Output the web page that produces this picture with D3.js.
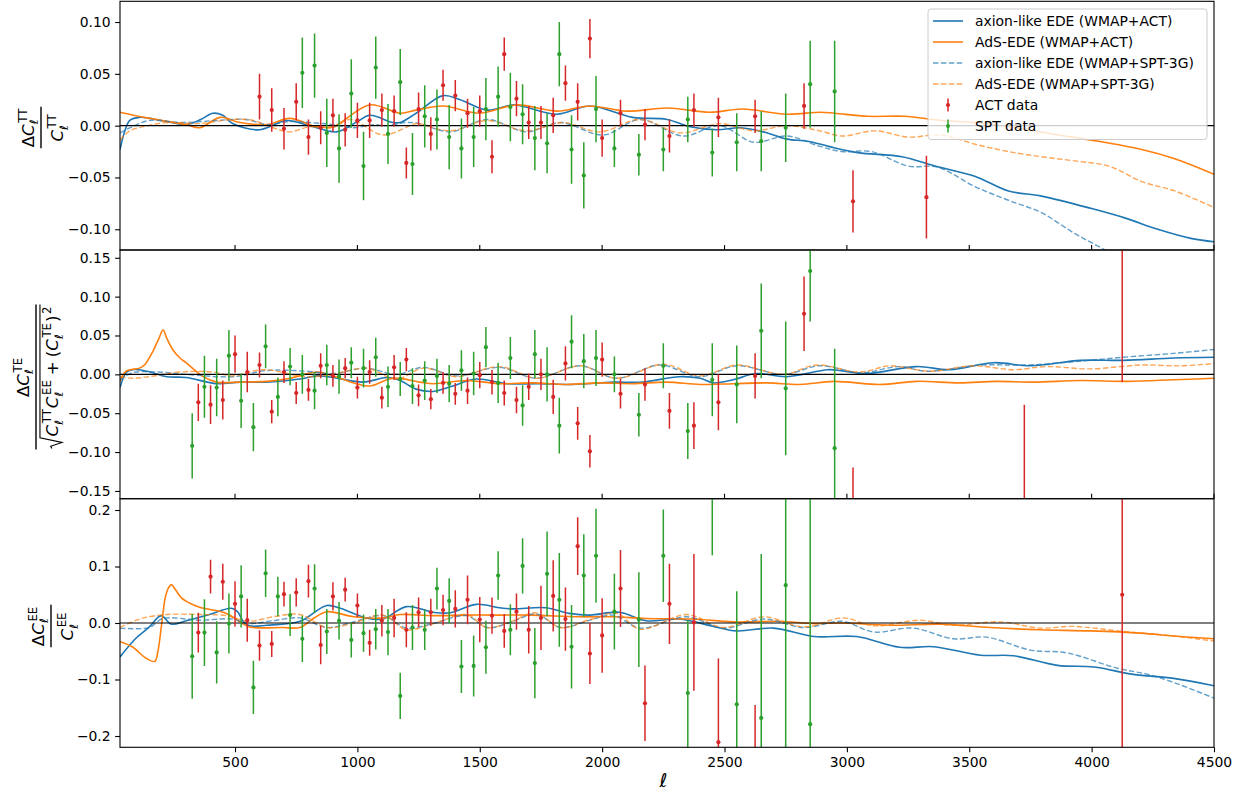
<!DOCTYPE html>
<html>
<head>
<meta charset="utf-8">
<script src="https://d3js.org/d3.v7.min.js"></script>
<style>
  body { margin: 0; background: #fff; }
  svg text { font-family: "DejaVu Sans", sans-serif; fill: #000; }
</style>
</head>
<body>
<svg id="chart" width="1245" height="792"></svg>
<script>
// ---------- data ----------
var xTicks = [500, 1000, 1500, 2000, 2500, 3000, 3500, 4000, 4500];
var ttTicks = [-0.10, -0.05, 0.00, 0.05, 0.10];
var teTicks = [-0.15, -0.10, -0.05, 0.00, 0.05, 0.10, 0.15];
var eeTicks = [-0.2, -0.1, 0.0, 0.1, 0.2];

var seriesNames = ["axion-like EDE (WMAP+ACT)", "AdS-EDE (WMAP+ACT)",
                   "axion-like EDE (WMAP+SPT-3G)", "AdS-EDE (WMAP+SPT-3G)"];
var dataNames = ["ACT data", "SPT data"];

// ACT, TT
var actTTell = [600,650,700,750,800,850,900,950,1000,1050,1100,1150,1200,1250,1300,1350,1400,1450,1500,1550,
  1600,1650,1700,1750,1800,1850,1900,1950,2000,2075,2175,2275,2375,2475,2625,2825,3025,3325];
var actTTval = [0.028,0.015,-0.003,0.023,-0.011,-0.002,0.010,-0.004,0.005,0.005,0.015,0.014,-0.036,0.016,-0.008,0.039,0.029,0.012,0.014,-0.030,
  0.069,0.026,0.003,0.003,0.010,0.041,0.023,0.084,-0.012,0.012,0.001,-0.010,0.015,0.008,0.009,0.019,-0.073,-0.069];
var actTTerr = [0.022,0.021,0.020,0.018,0.017,0.016,0.016,0.016,0.017,0.017,0.016,0.015,0.015,0.016,0.016,0.015,0.015,0.014,0.015,0.016,
  0.016,0.017,0.016,0.016,0.017,0.017,0.018,0.019,0.018,0.013,0.015,0.016,0.016,0.019,0.016,0.022,0.030,0.040];
// SPT, TT
var sptTTell = [775,825,875,925,975,1025,1075,1125,1175,1225,1275,1325,1375,1425,1475,1525,1575,1625,1675,1725,
  1775,1825,1875,1925,1975,2050,2150,2250,2350,2450,2550,2650,2750,2850,2950];
var sptTTval = [0.051,0.058,-0.007,-0.022,0.031,-0.039,0.056,-0.008,0.042,-0.037,0.009,0.006,-0.011,-0.022,-0.011,0.016,0.028,0.018,0.011,-0.012,
  -0.017,0.069,-0.023,-0.048,0.016,-0.022,-0.028,-0.023,0.006,-0.026,-0.016,-0.015,-0.002,0.040,0.033];
var sptTTerr = [0.034,0.031,0.033,0.033,0.033,0.033,0.030,0.029,0.032,0.030,0.030,0.029,0.031,0.029,0.029,0.030,0.029,0.033,0.029,0.031,
  0.029,0.031,0.033,0.032,0.032,0.018,0.020,0.021,0.022,0.023,0.028,0.029,0.033,0.042,0.049];

// ACT, TE
var actTEell = [350,400,450,500,550,600,650,700,750,800,850,900,950,1000,1050,1100,1150,1200,1250,1300,
  1350,1400,1450,1500,1550,1600,1650,1700,1750,1800,1850,1900,1950,2000,2075,2175,2275,2375,2475,2625,2825,3025,3725,4125];
var actTEval = [-0.036,-0.039,-0.033,0.026,0.003,0.012,-0.048,0.003,-0.024,-0.020,0.011,-0.002,0.008,-0.017,0.003,-0.030,0.009,0.019,-0.027,-0.032,
  -0.011,-0.025,-0.021,-0.001,-0.010,-0.024,-0.033,-0.016,0.000,-0.029,0.014,-0.063,-0.099,0.019,-0.025,-0.013,-0.047,-0.066,-0.036,-0.002,0.078,-0.230,-0.200,0.250];
var actTEerr = [0.024,0.025,0.025,0.024,0.026,0.016,0.015,0.014,0.014,0.014,0.016,0.014,0.013,0.014,0.015,0.014,0.016,0.015,0.014,0.013,
  0.014,0.014,0.017,0.017,0.016,0.016,0.017,0.017,0.020,0.022,0.022,0.021,0.021,0.022,0.019,0.021,0.023,0.030,0.036,0.029,0.048,0.110,0.161,0.260];
// SPT, TE
var sptTEell = [325,375,425,475,525,575,625,675,725,775,825,875,925,975,1025,1075,1125,1175,1225,1275,
  1325,1375,1425,1475,1525,1575,1625,1675,1725,1775,1825,1875,1925,1975,2050,2150,2250,2350,2450,2550,2650,2750,2850,2950];
var sptTEval = [-0.092,-0.016,-0.017,0.024,-0.034,-0.068,0.036,-0.029,0.010,0.000,-0.021,0.012,-0.003,0.015,0.008,0.022,-0.016,-0.006,-0.015,-0.008,
  -0.002,-0.012,0.005,0.001,0.035,-0.011,0.021,-0.040,0.026,0.000,-0.066,0.042,0.017,0.021,0.000,-0.052,0.011,-0.073,-0.007,-0.013,0.056,-0.018,0.133,-0.095];
var sptTEerr = [0.042,0.040,0.037,0.033,0.035,0.031,0.028,0.025,0.024,0.025,0.024,0.026,0.022,0.020,0.025,0.025,0.026,0.022,0.023,0.025,
  0.022,0.024,0.026,0.028,0.026,0.026,0.027,0.026,0.031,0.035,0.036,0.034,0.035,0.036,0.023,0.028,0.029,0.036,0.047,0.050,0.061,0.086,0.065,0.128];

// ACT, EE
var actEEell = [350,400,450,500,550,600,650,700,750,800,850,900,950,1000,1050,1100,1150,1200,1250,1300,
  1350,1400,1450,1500,1550,1600,1650,1700,1750,1800,1850,1900,1950,2000,2075,2175,2275,2375,2475,2625,4125];
var actEEval = [-0.017,0.082,0.073,0.034,0.005,-0.040,-0.037,0.051,0.054,0.074,-0.039,0.047,0.059,0.031,-0.035,0.004,0.009,-0.012,0.019,0.019,
  0.023,0.025,0.041,0.006,0.013,-0.014,0.020,-0.012,0.009,0.048,0.007,0.136,-0.054,-0.022,0.061,-0.142,0.034,0.001,-0.211,-0.280,0.050];
var actEEerr = [0.035,0.030,0.032,0.040,0.038,0.027,0.023,0.022,0.025,0.029,0.034,0.025,0.021,0.021,0.023,0.028,0.034,0.031,0.026,0.024,
  0.027,0.033,0.043,0.040,0.032,0.030,0.032,0.042,0.057,0.063,0.056,0.051,0.054,0.066,0.068,0.067,0.071,0.121,0.148,0.135,0.350];
// SPT, EE
var sptEEell = [325,375,425,475,525,575,625,675,725,775,825,875,925,975,1025,1075,1125,1175,1225,1275,
  1325,1375,1425,1475,1525,1575,1625,1675,1725,1775,1825,1875,1925,1975,2050,2150,2250,2350,2450,2550,2650,2750,2850];
var sptEEval = [-0.059,-0.017,-0.052,-0.001,0.047,-0.114,0.088,0.047,0.014,-0.028,0.061,-0.015,0.004,-0.030,-0.018,-0.011,-0.016,-0.129,-0.008,-0.012,
  0.061,0.039,-0.077,-0.076,-0.043,0.084,-0.012,0.101,-0.071,0.087,0.041,-0.042,0.084,0.119,0.020,0.006,0.119,-0.124,0.260,-0.144,-0.168,0.067,-0.179];
var sptEEerr = [0.075,0.059,0.055,0.053,0.055,0.047,0.042,0.035,0.037,0.041,0.043,0.040,0.033,0.031,0.033,0.036,0.041,0.041,0.040,0.036,
  0.037,0.040,0.047,0.054,0.047,0.043,0.045,0.049,0.062,0.075,0.083,0.074,0.073,0.083,0.067,0.084,0.082,0.129,0.140,0.200,0.290,0.320,0.420];

// model curves, [ell, value]
var ttAxionACT = [[30,-0.023],[50,-0.005],[70,0.005],[110,0.008],[200,0.005],[300,0.001],[360,0.006],[410,0.012],[450,0.010],[490,0.002],
  [600,-0.004],[710,0.005],[805,0.000],[915,-0.006],[1000,0.004],[1050,0.010],[1145,0.003],[1175,0.003],[1240,0.012],[1350,0.029],[1420,0.025],
  [1530,0.015],[1640,0.020],[1815,0.011],[1950,0.019],[2125,0.008],[2265,0.006],[2360,-0.001],[2470,-0.004],[2565,-0.002],[2675,-0.007],
  [2755,-0.013],[2840,-0.015],[2925,-0.020],[3045,-0.026],[3225,-0.030],[3360,-0.039],[3525,-0.049],[3660,-0.063],[3795,-0.068],[4000,-0.080],
  [4135,-0.089],[4270,-0.100],[4410,-0.109],[4500,-0.112]];
var ttAdsACT = [[30,0.013],[150,0.007],[300,0.001],[355,-0.002],[440,0.008],[520,0.003],[630,0.001],[725,0.007],[830,-0.001],[900,-0.001],
  [1050,0.020],[1175,0.012],[1240,0.015],[1350,0.019],[1500,0.012],[1650,0.020],[1815,0.014],[1950,0.019],[2100,0.014],[2265,0.017],[2440,0.013],
  [2575,0.016],[2755,0.011],[2890,0.013],[2950,0.012],[3085,0.009],[3235,0.009],[3385,0.005],[3525,0.003],[3660,-0.001],[3865,-0.009],
  [4000,-0.014],[4205,-0.023],[4340,-0.032],[4500,-0.047]];
var ttAxionSPT = [[30,-0.007],[80,-0.001],[150,0.005],[285,0.003],[425,0.005],[545,0.006],[630,0.001],[725,0.004],[805,0.003],[900,0.001],
  [985,-0.002],[1065,0.001],[1120,0.000],[1200,0.003],[1255,0.002],[1380,-0.006],[1530,0.006],[1690,-0.006],[1830,0.003],[2005,-0.009],
  [2155,0.006],[2330,-0.010],[2480,0.000],[2620,-0.016],[2755,-0.010],[2890,-0.020],[2980,-0.025],[3100,-0.025],[3250,-0.039],[3370,-0.040],
  [3525,-0.059],[3660,-0.072],[3795,-0.084],[3930,-0.104],[4055,-0.120],[4200,-0.140]];
var ttAdsSPT = [[30,-0.014],[70,-0.005],[125,-0.001],[220,0.003],[355,0.002],[490,0.006],[575,0.005],[655,-0.002],[725,-0.006],[805,-0.001],
  [900,-0.002],[970,0.006],[1105,-0.009],[1215,0.000],[1240,0.002],[1380,-0.005],[1530,0.005],[1690,-0.005],[1840,0.003],[1990,-0.006],
  [2155,0.006],[2320,-0.007],[2480,0.002],[2620,-0.005],[2755,0.000],[2890,-0.005],[2980,-0.010],[3115,-0.005],[3250,-0.011],[3385,-0.009],
  [3525,-0.018],[3660,-0.025],[3795,-0.030],[3930,-0.034],[4070,-0.039],[4205,-0.054],[4340,-0.063],[4500,-0.079]];

var teAxionACT = [[30,-0.017],[55,0.002],[80,0.006],[140,0.004],[220,-0.003],[300,-0.004],[425,-0.012],[520,-0.010],[630,-0.010],[765,-0.006],
  [835,-0.002],[900,-0.004],[1025,-0.010],[1120,-0.004],[1175,-0.008],[1240,-0.019],[1310,-0.022],[1390,-0.015],[1485,-0.006],[1610,-0.012],
  [1745,-0.012],[1880,-0.013],[2045,-0.010],[2165,-0.010],[2315,-0.003],[2400,-0.005],[2455,-0.011],[2535,-0.007],[2630,0.001],[2755,-0.003],
  [2920,0.006],[2970,0.005],[3080,0.001],[3285,0.010],[3420,0.006],[3600,0.015],[3750,0.011],[3955,0.018],[4130,0.018],[4335,0.021],[4500,0.022]];
var teAdsACT = [[30,-0.009],[55,0.004],[110,0.008],[130,0.012],[165,0.030],[190,0.047],[206,0.057],[222,0.046],[245,0.032],[275,0.021],
  [300,0.015],[370,-0.003],[425,-0.010],[520,-0.010],[630,-0.009],[725,-0.005],[835,0.003],[900,-0.002],[995,-0.012],[1050,-0.015],[1145,-0.005],
  [1255,-0.010],[1310,-0.012],[1445,-0.008],[1580,-0.012],[1720,-0.011],[1855,-0.013],[1990,-0.011],[2125,-0.012],[2265,-0.010],[2400,-0.013],
  [2535,-0.012],[2675,-0.011],[2810,-0.013],[2945,-0.009],[3135,-0.013],[3285,-0.009],[3460,-0.011],[3610,-0.009],[3760,-0.010],[3955,-0.008],
  [4145,-0.009],[4335,-0.007],[4500,-0.005]];
var teAxionSPT = [[30,-0.007],[80,0.002],[180,0.003],[300,0.000],[490,-0.003],[630,0.005],[790,0.004],[900,0.001],[1035,0.008],[1160,0.000],
  [1270,0.009],[1405,-0.002],[1580,0.009],[1730,-0.005],[1910,0.011],[2060,-0.005],[2235,0.012],[2400,-0.003],[2550,0.011],[2740,0.000],
  [2890,0.011],[3055,0.002],[3215,0.010],[3325,0.004],[3545,0.012],[3735,0.012],[3955,0.017],[4130,0.022],[4335,0.027],[4500,0.032]];
var teAdsSPT = [[30,-0.003],[80,-0.005],[150,-0.003],[275,0.003],[410,0.003],[490,-0.002],[615,0.006],[790,-0.003],[900,0.000],[1035,0.008],
  [1160,-0.006],[1270,0.008],[1405,-0.003],[1580,0.010],[1735,-0.005],[1910,0.011],[2060,-0.005],[2250,0.013],[2400,-0.002],[2550,0.012],
  [2740,0.000],[2875,0.012],[3055,0.003],[3175,0.011],[3340,0.004],[3515,0.011],[3680,0.006],[3815,0.010],[3995,0.007],[4200,0.012],
  [4365,0.011],[4500,0.014]];

var eeAxionACT = [[30,-0.060],[95,-0.027],[150,-0.007],[198,0.013],[240,-0.002],[300,0.004],[395,0.015],[485,0.026],[510,0.020],[535,0.002],
  [560,-0.005],[630,-0.004],[765,0.003],[875,0.031],[930,0.026],[1035,0.009],[1105,0.007],[1200,0.029],[1310,0.019],[1380,0.018],[1485,0.033],
  [1580,0.027],[1635,0.025],[1770,0.027],[1865,0.017],[1950,0.014],[2070,0.019],[2180,0.004],[2315,0.007],[2455,-0.006],[2550,-0.014],
  [2700,-0.009],[2865,-0.024],[3040,-0.024],[3215,-0.043],[3355,-0.042],[3545,-0.057],[3680,-0.058],[3860,-0.075],[4010,-0.078],[4170,-0.091],
  [4335,-0.098],[4500,-0.111]];
var eeAdsACT = [[30,-0.033],[80,-0.042],[135,-0.062],[172,-0.068],[185,-0.050],[195,-0.020],[205,0.015],[215,0.045],[228,0.062],[240,0.068],
  [255,0.060],[280,0.045],[320,0.034],[355,0.028],[465,0.017],[520,0.002],[560,-0.007],[695,-0.008],[765,-0.008],[820,0.008],[875,0.020],
  [985,0.011],[1105,0.009],[1175,0.015],[1310,0.013],[1445,0.014],[1580,0.014],[1705,0.014],[1910,0.011],[2045,0.011],[2180,0.008],
  [2370,0.007],[2535,0.002],[2725,0.003],[2865,-0.001],[2975,0.000],[3175,-0.004],[3380,-0.002],[3585,-0.008],[3790,-0.012],[3995,-0.014],
  [4200,-0.018],[4335,-0.023],[4500,-0.028]];
var eeAxionSPT = [[30,-0.009],[150,-0.008],[205,0.008],[355,0.005],[490,0.007],[555,-0.001],[655,0.004],[765,0.009],[875,-0.008],[970,0.000],
  [1105,0.013],[1200,-0.009],[1310,-0.001],[1445,0.013],[1530,-0.008],[1625,0.001],[1730,0.016],[1830,-0.008],[1950,0.005],[2045,0.014],
  [2155,-0.009],[2345,0.011],[2495,-0.009],[2660,0.007],[2825,-0.008],[2980,0.003],[3110,-0.016],[3270,-0.009],[3435,-0.028],[3570,-0.025],
  [3750,-0.048],[3900,-0.053],[4105,-0.080],[4240,-0.092],[4365,-0.110],[4500,-0.133]];
var eeAdsSPT = [[30,-0.008],[110,0.007],[220,0.015],[355,0.015],[465,0.013],[555,0.003],[655,0.011],[765,0.015],[875,-0.008],[970,-0.002],
  [1105,0.014],[1200,-0.012],[1310,-0.001],[1445,0.015],[1530,-0.008],[1625,0.002],[1730,0.018],[1830,-0.008],[1950,0.006],[2060,0.017],
  [2155,-0.011],[2345,0.015],[2495,-0.008],[2660,0.011],[2825,-0.007],[2985,0.009],[3110,-0.005],[3300,0.005],[3425,-0.004],[3625,0.002],
  [3790,-0.009],[3925,-0.006],[4130,-0.015],[4335,-0.023],[4500,-0.032]];

// ---------- layout ----------
var blue = "#1f77b4", orange = "#ff7f0e", red = "#d62728", green = "#2ca02c";
var styles = [
  {color: blue, dash: null, op: 1, w: 1.6},
  {color: orange, dash: null, op: 1, w: 1.6},
  {color: blue, dash: "5.5,2.4", op: 0.7, w: 1.4},
  {color: orange, dash: "5.5,2.4", op: 0.7, w: 1.4}
];
var margin = {left: 120, right: 1214};
var x = d3.scaleLinear().domain([30, 4500]).range([margin.left, margin.right]);

var panels = [
  {top: 1.3, bottom: 250, domain: [-0.12, 0.12], ticks: ttTicks, fmt: ".2f",
   curves: [ttAxionACT, ttAdsACT, ttAxionSPT, ttAdsSPT],
   act: [actTTell, actTTval, actTTerr], spt: [sptTTell, sptTTval, sptTTerr],
   label: {cx: 41, cy: 127.5, num: "TT", den: "TT"}},
  {top: 250, bottom: 498.7, domain: [-0.16, 0.16], ticks: teTicks, fmt: ".2f",
   curves: [teAxionACT, teAdsACT, teAxionSPT, teAdsSPT],
   act: [actTEell, actTEval, actTEerr], spt: [sptTEell, sptTEval, sptTEerr],
   label: {cx: 36, cy: 377, num: "TE", den: null}},
  {top: 498.7, bottom: 747.3, domain: [-0.22, 0.22], ticks: eeTicks, fmt: ".1f",
   curves: [eeAxionACT, eeAdsACT, eeAxionSPT, eeAdsSPT],
   act: [actEEell, actEEval, actEEerr], spt: [sptEEell, sptEEval, sptEEerr],
   label: {cx: 51, cy: 626, num: "EE", den: "EE"}}
];

var svg = d3.select("#chart");
var minus = function(s) { return s.replace("-", "\u2212"); };

panels.forEach(function(p, pi) {
  var y = d3.scaleLinear().domain(p.domain).range([p.bottom, p.top]);
  var clipId = "clip" + pi;
  svg.append("clipPath").attr("id", clipId).append("rect")
    .attr("x", margin.left).attr("y", p.top)
    .attr("width", margin.right - margin.left).attr("height", p.bottom - p.top);

  var plot = svg.append("g").attr("clip-path", "url(#" + clipId + ")");
  var line = d3.line().x(function(d) { return x(d[0]); }).y(function(d) { return y(d[1]); })
    .curve(d3.curveCatmullRom.alpha(0.5));

  p.curves.forEach(function(c, ci) {
    var s = styles[ci];
    plot.append("path").datum(c).attr("d", line)
      .attr("fill", "none").attr("stroke", s.color).attr("stroke-width", s.w)
      .attr("stroke-opacity", s.op).attr("stroke-dasharray", s.dash);
  });

  plot.append("line").attr("x1", margin.left).attr("x2", margin.right)
    .attr("y1", y(0)).attr("y2", y(0)).attr("stroke", "#000").attr("stroke-width", 1.1);

  [[p.act, red], [p.spt, green]].forEach(function(set) {
    var ell = set[0][0], val = set[0][1], err = set[0][2], col = set[1];
    var pts = ell.map(function(l, i) { return {l: l, v: val[i], e: err[i]}; });
    plot.append("g").selectAll("line").data(pts).join("line")
      .attr("x1", function(d) { return x(d.l); }).attr("x2", function(d) { return x(d.l); })
      .attr("y1", function(d) { return y(d.v - d.e); }).attr("y2", function(d) { return y(d.v + d.e); })
      .attr("stroke", col).attr("stroke-width", 1.5);
    plot.append("g").selectAll("circle").data(pts).join("circle")
      .attr("cx", function(d) { return x(d.l); }).attr("cy", function(d) { return y(d.v); })
      .attr("r", 2.1).attr("fill", col);
  });

  // y axis
  var ya = svg.append("g").attr("transform", "translate(" + margin.left + ",0)")
    .call(d3.axisLeft(y).tickValues(p.ticks).tickSize(4.9).tickPadding(4.5)
      .tickFormat(function(d) { return minus(d3.format(p.fmt)(d)); }));
  ya.select(".domain").remove();
  ya.selectAll(".tick line").attr("stroke-width", 1.1);
  ya.selectAll("text").style("font-size", "13.9px").style("font-family", "DejaVu Sans");

  // x ticks
  if (pi < 2) {
    svg.append("g").selectAll("line").data(xTicks).join("line")
      .attr("x1", function(d) { return x(d); }).attr("x2", function(d) { return x(d); })
      .attr("y1", p.bottom).attr("y2", p.bottom - 4.9).attr("stroke", "#000").attr("stroke-width", 1.1);
  } else {
    var xa = svg.append("g").attr("transform", "translate(0," + p.bottom + ")")
      .call(d3.axisBottom(x).tickValues(xTicks).tickSize(4.9).tickPadding(4.5).tickFormat(d3.format("d")));
    xa.select(".domain").remove();
    xa.selectAll(".tick line").attr("stroke-width", 1.1);
    xa.selectAll("text").style("font-size", "13.9px").style("font-family", "DejaVu Sans");
  }

  // frame
  svg.append("rect").attr("x", margin.left).attr("y", p.top)
    .attr("width", margin.right - margin.left).attr("height", p.bottom - p.top)
    .attr("fill", "none").attr("stroke", "#000").attr("stroke-width", 1.1);

  drawLabel(p.label);
});

// x label
svg.append("text").attr("x", x(2250)).attr("y", 787).attr("text-anchor", "middle")
  .style("font-size", "19px").style("font-style", "italic").text("\u2113");

// ---------- math y labels ----------
function mathRow(g, tokens, size) {
  var cx = 0;
  tokens.forEach(function(tk) {
    if (tk.t != null) {
      cx += tk.pl || 0;
      var el = g.append("text").attr("x", cx).attr("y", 0).style("font-size", size + "px")
        .style("font-style", tk.it ? "italic" : "normal").text(tk.t);
      cx += el.node().getComputedTextLength() + (tk.pr || 0);
    } else {
      var s = size * 0.7, w = 0;
      if (tk.sup) {
        var e1 = g.append("text").attr("x", cx + 1.5).attr("y", -size * 0.42).style("font-size", s + "px").text(tk.sup);
        w = Math.max(w, e1.node().getComputedTextLength() + 1.5);
      }
      if (tk.sub) {
        var e2 = g.append("text").attr("x", cx).attr("y", size * 0.27).style("font-size", s + "px")
          .style("font-style", "italic").text(tk.sub);
        w = Math.max(w, e2.node().getComputedTextLength());
      }
      cx += w + 1;
    }
  });
  return cx;
}

function drawLabel(lb) {
  var size = 16.7;
  var g = svg.append("g").attr("transform", "translate(" + lb.cx + "," + lb.cy + ") rotate(-90)");
  var gn = g.append("g");
  var wn = mathRow(gn, [{t: "\u0394"}, {t: "C", it: true}, {sub: "\u2113", sup: lb.num}], size);
  var gd = g.append("g"), wd;
  if (lb.den) {
    wd = mathRow(gd, [{t: "C", it: true}, {sub: "\u2113", sup: lb.den}], size);
  } else {
    var rw = size * 0.72;
    var gc = gd.append("g").attr("transform", "translate(" + rw + ",0)");
    var wc = mathRow(gc, [{t: "C", it: true}, {sub: "\u2113", sup: "TT"}, {t: "C", it: true}, {sub: "\u2113", sup: "EE"},
      {t: "+", pl: 4, pr: 4}, {t: "("}, {t: "C", it: true}, {sub: "\u2113", sup: "TE"}, {t: ")"}, {sup: "2"}], size);
    var top = -size * 1.08;
    gd.append("path")
      .attr("d", "M0," + (-size * 0.36) + "L" + (size * 0.13) + "," + (-size * 0.44) + "L" + (size * 0.36) + "," + (size * 0.24) +
        "L" + (size * 0.64) + "," + top + "L" + (rw + wc + 1) + "," + top)
      .attr("fill", "none").attr("stroke", "#000").attr("stroke-width", 1.1);
    wd = rw + wc;
  }
  gn.attr("transform", "translate(" + (-wn / 2) + ",-7.5)");
  gd.attr("transform", "translate(" + (-wd / 2) + ",22)");
  var W = Math.max(wn, wd) + 2;
  g.append("line").attr("x1", -W / 2).attr("x2", W / 2).attr("y1", 0).attr("y2", 0)
    .attr("stroke", "#000").attr("stroke-width", 1.4);
}

// ---------- legend ----------
var lg = svg.append("g").attr("transform", "translate(928,9)");
lg.append("rect").attr("width", 279).attr("height", 130.5).attr("rx", 3)
  .attr("fill", "#fff").attr("fill-opacity", 0.8).attr("stroke", "#ccc").attr("stroke-width", 1);
var rowY = function(i) { return 12 + i * 21; };
seriesNames.forEach(function(n, i) {
  var s = styles[i];
  lg.append("line").attr("x1", 5).attr("x2", 35).attr("y1", rowY(i)).attr("y2", rowY(i))
    .attr("stroke", s.color).attr("stroke-width", s.w).attr("stroke-opacity", s.op).attr("stroke-dasharray", s.dash);
  lg.append("text").attr("x", 47).attr("y", rowY(i) + 5).style("font-size", "13.9px").text(n);
});
dataNames.forEach(function(n, j) {
  var i = j + 4, col = j === 0 ? red : green;
  lg.append("line").attr("x1", 20).attr("x2", 20).attr("y1", rowY(i) - 6.5).attr("y2", rowY(i) + 6.5)
    .attr("stroke", col).attr("stroke-width", 1.5);
  lg.append("circle").attr("cx", 20).attr("cy", rowY(i)).attr("r", 2.1).attr("fill", col);
  lg.append("text").attr("x", 47).attr("y", rowY(i) + 5).style("font-size", "13.9px").text(n);
});
</script>
</body>
</html>
